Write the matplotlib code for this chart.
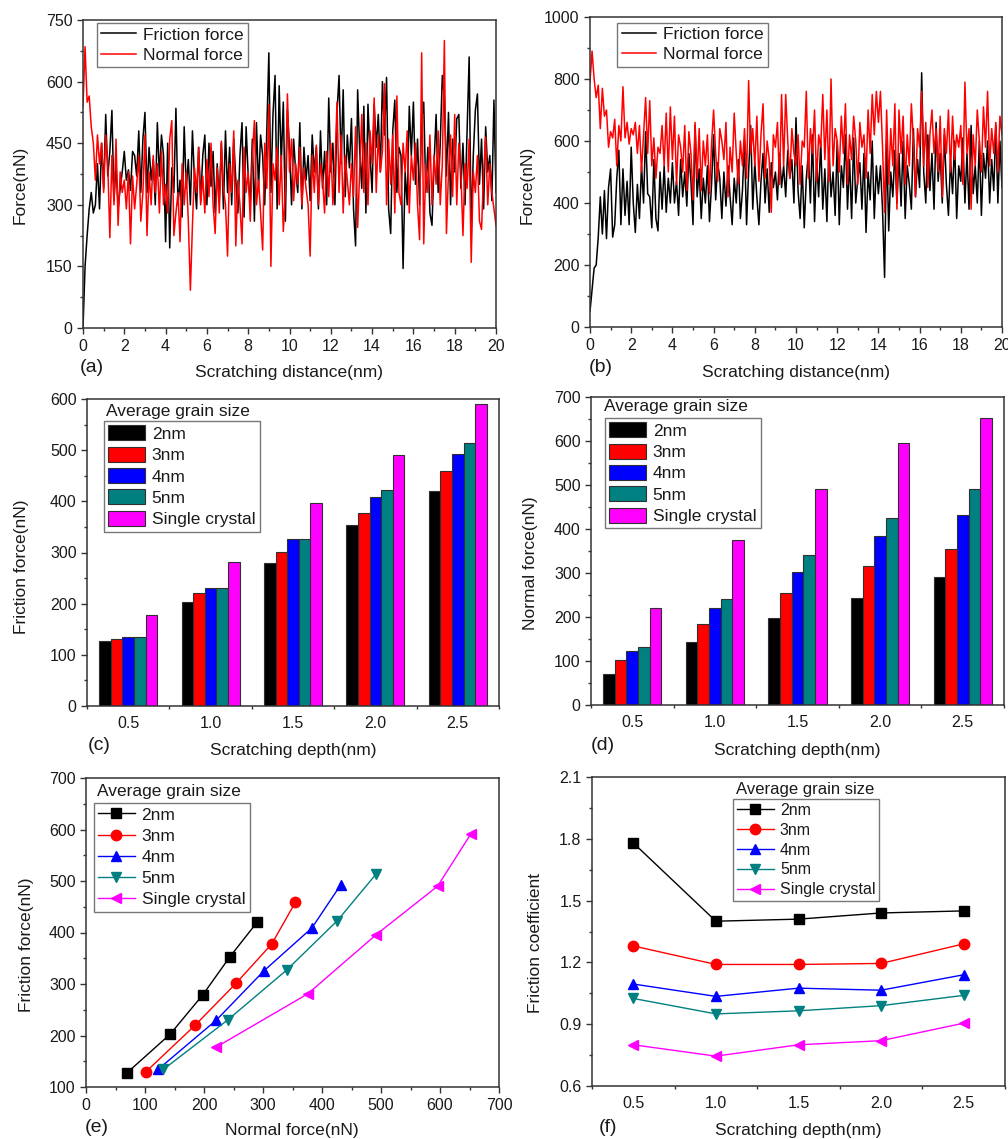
import numpy as np
import matplotlib
matplotlib.use("Agg")
import matplotlib.pyplot as plt
from matplotlib.ticker import MultipleLocator

plt.rcParams['font.family'] = ['Liberation Sans', 'DejaVu Sans']

W, H = 1008, 1139

# ---- (a), (b): force vs scratching distance, sampled every 0.1 nm ----
dist_step = 0.1
fric_a = [
    0, 150, 225, 290, 330, 280, 300, 400, 290, 450,
    340, 520, 370, 430, 530, 310, 400, 290, 340, 380,
    430, 360, 385, 335, 430, 420, 370, 480, 330, 460,
    525, 330, 440, 360, 410, 300, 500, 370, 470, 420,
    210, 450, 195, 390, 330, 535, 300, 360, 270, 490,
    340, 410, 300, 480, 360, 290, 440, 310, 420, 470,
    300, 450, 345, 430, 280, 400, 310, 450, 290, 480,
    330, 440, 300, 460, 360, 280, 420, 500, 270, 490,
    370, 300, 460, 260, 500, 340, 470, 420, 300, 480,
    670, 330, 520, 615, 290, 590, 400, 550, 260, 530,
    440, 300, 460, 380, 330, 500, 290, 440, 360, 420,
    310, 470, 380, 440, 290, 480, 340, 430, 300, 560,
    380, 450, 300, 525, 615, 400, 580, 320, 470, 390,
    510, 290, 200, 580, 430, 340, 540, 280, 545, 420,
    330, 545, 440, 520, 380, 600, 470, 610, 290, 230,
    480, 555, 330, 440, 420, 145, 380, 300, 540, 420,
    550, 350, 460, 300, 510, 550, 330, 440, 280, 250,
    400, 520, 330, 450, 615, 560, 370, 525, 300, 460,
    380, 510, 520, 340, 450, 300, 480, 660, 230, 420,
    530, 570, 350, 460, 290, 490, 380, 420, 310, 555,
    330]
norm_a = [
    540, 685, 550, 565, 490, 450, 360, 470, 400, 450,
    330, 470, 400, 220, 420, 300, 460, 250, 380, 330,
    360, 290, 380, 205, 370, 290, 350, 420, 260, 330,
    470, 225, 380, 300, 420, 330, 400, 280, 430, 300,
    350, 280, 460, 505, 225, 280, 330, 210, 400, 300,
    380, 260, 92, 250, 390, 330, 440, 300, 370, 280,
    410, 320, 450, 300, 230, 390, 280, 455, 340, 300,
    175, 400, 330, 480, 200, 360, 300, 205, 440, 330,
    380, 260, 420, 505, 300, 360, 280, 190, 450, 340,
    545, 150, 400, 360, 440, 300, 420, 235, 330, 570,
    380, 460, 310, 400, 350, 440, 300, 390, 340, 300,
    175, 420, 330, 445, 300, 400, 360, 280, 430, 320,
    450, 300, 390, 550, 330, 470, 280, 420, 360, 300,
    400, 320, 490, 245, 380, 520, 330, 450, 300, 480,
    400, 560, 330, 470, 380, 430, 595, 300, 460, 350,
    470, 280, 565, 330, 300, 450, 380, 480, 280, 420,
    360, 450, 300, 215, 670, 205, 400, 330, 470, 300,
    420, 350, 480, 300, 400, 700, 230, 380, 470, 320,
    520, 300, 450, 380, 225, 400, 340, 460, 160, 380,
    330, 420, 260, 240, 380, 465, 300, 400, 330, 290,
    250]
fric_b = [
    50, 120, 190, 200, 290, 420, 300, 440, 285, 450,
    510, 290, 330, 480, 570, 330, 510, 360, 470, 330,
    580, 400, 305, 460, 350, 520, 400, 630, 430, 420,
    320, 540, 350, 310, 500, 380, 520, 370, 480, 400,
    530, 400, 470, 360, 540, 420, 500, 390, 560, 470,
    330, 650, 420, 510, 350, 480, 400, 520, 340, 460,
    620, 410, 530, 480, 350, 500, 390, 520, 420, 330,
    480, 400, 540, 350, 440, 600, 330, 500, 650, 380,
    530, 420, 330, 470, 560, 400, 510, 370, 530, 450,
    500, 410, 560, 450, 520, 420, 570, 480, 540, 400,
    675, 440, 350, 520, 320, 480, 560, 400, 620, 340,
    540, 420, 600, 380, 510, 340, 580, 420, 500, 360,
    600, 330, 520, 450, 620, 380, 540, 350, 610, 400,
    480, 530, 380, 560, 305, 500, 410, 600, 350, 520,
    430, 520, 380, 160, 600, 310, 500, 420, 570, 400,
    560, 390, 600, 350, 520, 460, 380, 640, 420, 540,
    450, 820, 500, 400, 620, 440, 560, 380, 660, 470,
    560, 400, 620, 460, 360, 540, 430, 600, 350, 520,
    470, 610, 400, 560, 380, 650, 430, 520, 400, 600,
    360, 560, 480, 600, 400, 540, 440, 650, 400, 600,
    450]
norm_b = [
    790, 890, 800, 740, 780, 640, 770, 680, 700, 580,
    630, 610, 670, 520, 650, 600, 775, 610, 660, 590,
    640, 620, 660, 560, 650, 500, 620, 740, 560, 730,
    520, 610, 480, 580, 560, 650, 520, 690, 500, 710,
    540, 680, 460, 620, 580, 500, 650, 440, 630, 560,
    410, 660, 480, 640, 440, 600, 520, 620, 430, 590,
    700, 560, 470, 640, 600, 540, 660, 420, 580, 500,
    690, 560, 460, 600, 520, 640, 480, 795, 560, 640,
    520, 680, 470, 620, 720, 480, 600, 540, 370, 620,
    580, 660, 460, 750, 520, 750, 600, 480, 640, 560,
    520, 620, 460, 600, 580, 760, 480, 640, 560, 700,
    470, 620, 580, 750, 540, 700, 470, 800, 520, 640,
    600, 500, 680, 560, 720, 460, 620, 540, 680, 600,
    460, 660, 580, 620, 480, 700, 560, 750, 620, 760,
    660, 760, 580, 370, 700, 460, 640, 520, 720, 380,
    700, 560, 680, 460, 620, 520, 720, 600, 420, 640,
    580, 760, 520, 660, 450, 620, 700, 560, 640, 500,
    680, 420, 640, 560, 700, 500, 680, 540, 620, 580,
    650, 460, 790, 560, 640, 380, 620, 520, 700, 600,
    500, 710, 580, 760, 520, 640, 560, 660, 500, 680,
    620]

# ---- (c)-(f): averages per scratching depth ----
depths = [0.5, 1.0, 1.5, 2.0, 2.5]
sizes = ['2nm', '3nm', '4nm', '5nm', 'Single crystal']
friction = [
    [128, 203, 279, 353, 420],
    [130, 220, 301, 378, 459],
    [134, 230, 326, 409, 493],
    [134, 230, 327, 423, 514],
    [177, 281, 396, 490, 591],
]
normal = [
    [70, 143, 198, 244, 290],
    [102, 185, 254, 315, 355],
    [122, 221, 302, 383, 432],
    [131, 240, 340, 426, 492],
    [220, 376, 492, 596, 652],
]
coef = [
    [1.78, 1.40, 1.41, 1.44, 1.45],
    [1.28, 1.19, 1.19, 1.195, 1.29],
    [1.095, 1.035, 1.075, 1.065, 1.14],
    [1.025, 0.95, 0.965, 0.99, 1.04],
    [0.80, 0.745, 0.80, 0.82, 0.905],
]
colors = ['#000000', '#ff0000', '#0000ff', '#008080', '#ff00ff']
markers = ['s', 'o', '^', 'v', '<']

TXT = '#1a1a1a'


def add_axes(fig, l, r, t, b):
    return fig.add_axes([l / W, 1 - b / H, (r - l) / W, (b - t) / H])


def style(ax, xmaj, xmin, ymaj, ymin, xtick_len=4):
    for s in ax.spines.values():
        s.set_color('#333333')
        s.set_linewidth(1.1)
    ax.xaxis.set_major_locator(MultipleLocator(xmaj))
    ax.xaxis.set_minor_locator(MultipleLocator(xmin))
    ax.yaxis.set_major_locator(MultipleLocator(ymaj))
    ax.yaxis.set_minor_locator(MultipleLocator(ymin))
    ax.tick_params(which='both', direction='out', colors='#333333',
                   labelcolor=TXT, labelsize=11.5, top=False, right=False)
    ax.tick_params(which='major', length=4, width=1)
    ax.tick_params(which='minor', length=2.5, width=1)
    ax.tick_params(axis='x', which='major', length=xtick_len, pad=4)


def ftext(x, y, s, **kw):
    kw.setdefault('fontsize', 12.5)
    kw.setdefault('color', TXT)
    plt.gcf().text(x / W, 1 - y / H, s, **kw)


def legend(ax, handles, labels, x, y, fs=12.5, **kw):
    lg = ax.legend(handles, labels, loc='upper left', bbox_to_anchor=(x, y),
                   borderaxespad=0, fancybox=False, fontsize=fs,
                   frameon=True, borderpad=0.25, handletextpad=0.4, **kw)
    lg.get_frame().set_edgecolor('#555555')
    lg.get_frame().set_linewidth(1.0)
    for t in lg.get_texts():
        t.set_color(TXT)
    return lg


fig = plt.figure(figsize=(W / 100, H / 100), dpi=100)

# ---------- (a) and (b) ----------
panels_ab = [
    ((83, 496, 20, 328), fric_a, norm_a, 750, 150, 75, (0.034, 0.99), '(a)', 92, 289, 20),
    ((590, 1002, 17, 327), fric_b, norm_b, 1000, 200, 100, (0.066, 0.982), '(b)', 601, 796, 527),
]
for box, fr, no, ytop, ymaj, ymin, lpos, tag, tagx, xlx, ylx in panels_ab:
    ax = add_axes(fig, *box)
    x = np.arange(len(fr)) * dist_step
    l1, = ax.plot(x, fr, color='black', lw=1.1)
    l2, = ax.plot(x, no, color='#ff0000', lw=1.1)
    ax.set_xlim(0, 20)
    ax.set_ylim(0, ytop)
    style(ax, 2, 1, ymaj, ymin)
    legend(ax, [l1, l2], ['Friction force', 'Normal force'], *lpos,
           handlelength=2.0, labelspacing=0.3)
    ftext(tagx, 368, tag, ha='center', va='center', fontsize=14)
    ftext(xlx, 373, 'Scratching distance(nm)', ha='center', va='center')
    ftext(ylx, 185, 'Force(nN)', ha='center', va='center', rotation=90)

# ---------- (c) and (d) bars ----------
bar_w = 0.0705
panels_cd = [
    ((87, 499, 399, 706), friction, 600, (0.041, 0.928), (0.046, 0.958), '(c)', 99, 293, 22,
     'Friction force(nN)', 567),
    ((591, 1004, 397, 705), normal, 700, (0.034, 0.932), (0.032, 0.968), '(d)', 603, 797, 531,
     'Normal force(nN)', 563),
]
for box, vals, ytop, lpos, tpos, tag, tagx, xlx, ylx, ylab, yly in panels_cd:
    ax = add_axes(fig, *box)
    hs = []
    for i in range(5):
        pos = [d + (i - 2) * bar_w for d in depths]
        b = ax.bar(pos, vals[i], width=bar_w, color=colors[i],
                   edgecolor='#303030', linewidth=0.8)
        hs.append(b)
    ax.set_xlim(0.25, 2.75)
    ax.set_ylim(0, ytop)
    style(ax, 0.5, 0.25, 100, 50, xtick_len=0)
    ax.set_xticks(depths)
    ax.set_xticklabels(['0.5', '1.0', '1.5', '2.0', '2.5'])
    ax.tick_params(axis='x', which='major', pad=7)
    legend(ax, hs, sizes, *lpos, handlelength=2.1, handleheight=0.95,
           labelspacing=0.28)
    ax.text(tpos[0], tpos[1], 'Average grain size', transform=ax.transAxes,
            ha='left', va='center', fontsize=12.5, color=TXT)
    ftext(tagx, 745, tag, ha='center', va='center', fontsize=14)
    ftext(xlx, 751, 'Scratching depth(nm)', ha='center', va='center')
    ftext(ylx, yly, ylab, ha='center', va='center', rotation=90)

# ---------- (e) friction vs normal ----------
ax = add_axes(fig, 86, 499, 778, 1087)
hs = []
for i in range(5):
    h, = ax.plot(normal[i], friction[i], color=colors[i], marker=markers[i],
                 ms=7.5, lw=1.0)
    hs.append(h)
ax.set_xlim(0, 700)
ax.set_ylim(100, 700)
style(ax, 100, 50, 100, 50)
legend(ax, hs, sizes, 0.019, 0.919, handlelength=2.1, labelspacing=0.35)
ax.text(0.027, 0.955, 'Average grain size', transform=ax.transAxes,
        ha='left', va='center', fontsize=12.5, color=TXT)
ftext(97, 1127, '(e)', ha='center', va='center', fontsize=14)
ftext(292, 1131, 'Normal force(nN)', ha='center', va='center')
ftext(26, 945, 'Friction force(nN)', ha='center', va='center', rotation=90)

# ---------- (f) friction coefficient ----------
ax = add_axes(fig, 592, 1005, 777, 1086)
hs = []
for i in range(5):
    h, = ax.plot(depths, coef[i], color=colors[i], marker=markers[i],
                 ms=7.5, lw=1.0)
    hs.append(h)
ax.set_xlim(0.25, 2.75)
ax.set_ylim(0.6, 2.1)
style(ax, 0.5, 0.25, 0.3, 0.15, xtick_len=0)
ax.set_xticks(depths)
ax.set_xticklabels(['0.5', '1.0', '1.5', '2.0', '2.5'])
ax.tick_params(axis='x', which='major', pad=7)
legend(ax, hs, sizes, 0.341, 0.929, fs=11.5, handlelength=2.3,
       labelspacing=0.3)
ax.text(0.348, 0.961, 'Average grain size', transform=ax.transAxes,
        ha='left', va='center', fontsize=12, color=TXT)
ftext(608, 1127, '(f)', ha='center', va='center', fontsize=14)
ftext(798, 1131, 'Scratching depth(nm)', ha='center', va='center')
ftext(536, 943, 'Friction coefficient', ha='center', va='center', rotation=90)

fig.savefig('out.png', dpi=100)
